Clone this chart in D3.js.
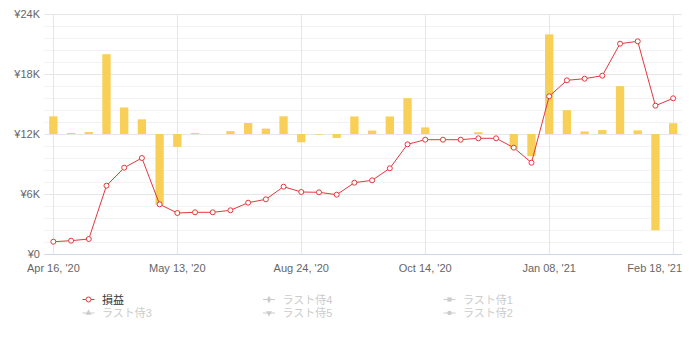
<!DOCTYPE html>
<html>
<head>
<meta charset="utf-8">
<script src="https://cdn.jsdelivr.net/npm/d3@7"></script>
<style>
  html, body { margin: 0; padding: 0; background: #fff; }
  svg { display: block; font-family: "Liberation Sans", Arial, "Noto Sans CJK JP", sans-serif; }
</style>
</head>
<body>
<svg id="chart" width="689" height="338"></svg>
<script>
// ---- data ----
const tickLabels = ["Apr 16, '20", "May 13, '20", "Aug 24, '20", "Oct 14, '20", "Jan 08, '21", "Feb 18, '21"];
const cumulativePL = [1230, 1330, 1500, 6830, 8630, 9600, 4970, 4100, 4170, 4170, 4370, 5130,
  5470, 6730, 6200, 6170, 5930, 7130, 7370, 8570, 10970, 11430, 11430, 11430,
  11570, 11570, 10630, 9130, 15770, 17370, 17530, 17830, 21030, 21270, 14830, 15570];
const periodPL = [1180, 70, 130, 5320, 1770, 980, -4700, -860, 70, 0, 190, 730,
  360, 1180, -550, -40, -260, 1170, 230, 1170, 2390, 440, 0, 0,
  120, 0, -980, -1480, 6640, 1590, 170, 260, 3190, 240, -6420, 720];
const yTicks = [0, 6000, 12000, 18000, 24000];
const legendNames = ["損益", "ラスト侍4", "ラスト侍1", "ラスト侍3", "ラスト侍5", "ラスト侍2"];
const legendSymbols = ["circle", "diamond", "square", "triangle", "triangle-down", "circle"];

// ---- layout ----
const svg = d3.select("#chart");
const plot = { left: 44.5, right: 682, top: 14, bottom: 254 };
const n = cumulativePL.length;

const x = d3.scaleBand().domain(d3.range(n)).range([plot.left, plot.right]).paddingInner(0.53).paddingOuter(0.265);
const xc = i => x(i) + x.bandwidth() / 2;
const y = d3.scaleLinear().domain([0, 24000]).range([plot.bottom, plot.top]);
const y2 = d3.scaleLinear().domain([-8000, 8000]).range([plot.bottom, plot.top]);

// minor grid
const minorTicks = d3.range(0, 24001, 1200).filter(v => v % 6000 !== 0);
svg.append("g").selectAll("line").data(minorTicks).join("line")
  .attr("x1", plot.left).attr("x2", plot.right)
  .attr("y1", d => Math.round(y(d)) + 0.5).attr("y2", d => Math.round(y(d)) + 0.5)
  .attr("stroke", "#f2f2f2").attr("stroke-width", 1);

// major horizontal grid
svg.append("g").selectAll("line").data(yTicks.filter(v => v > 0)).join("line")
  .attr("x1", plot.left).attr("x2", plot.right)
  .attr("y1", d => Math.round(y(d)) + 0.5).attr("y2", d => Math.round(y(d)) + 0.5)
  .attr("stroke", "#e6e6e6").attr("stroke-width", 1);

// vertical grid at labeled ticks
const tickIdx = d3.range(n).filter(i => i % 7 === 0);
svg.append("g").selectAll("line").data(tickIdx).join("line")
  .attr("x1", d => Math.round(xc(d)) + 0.5).attr("x2", d => Math.round(xc(d)) + 0.5)
  .attr("y1", plot.top).attr("y2", plot.bottom)
  .attr("stroke", "#e6e6e6").attr("stroke-width", 1);

// y axis labels
const yAxis = d3.axisLeft(y).tickValues(yTicks).tickSize(0).tickPadding(0)
  .tickFormat(d => d === 0 ? "¥0" : "¥" + (d / 1000) + "K");
const gy = svg.append("g").attr("transform", `translate(40,0)`).call(yAxis);
gy.select(".domain").remove();
gy.selectAll("text").attr("fill", "#666").style("font-size", "11px")
  .style("font-family", '"Liberation Sans", Arial, sans-serif');

// bars
svg.append("g").selectAll("rect").data(periodPL).join("rect")
  .attr("x", (d, i) => x(i))
  .attr("width", x.bandwidth())
  .attr("y", d => Math.min(y2(d), y2(0)))
  .attr("height", d => Math.abs(y2(d) - y2(0)))
  .attr("fill", "#f8d057");

// x axis line
svg.append("line").attr("x1", plot.left).attr("x2", plot.right)
  .attr("y1", plot.bottom + 0.5).attr("y2", plot.bottom + 0.5)
  .attr("stroke", "#ccd6eb").attr("stroke-width", 1);

// x axis labels
const xAxis = d3.axisBottom(x).tickValues(tickIdx).tickSize(0).tickPadding(0)
  .tickFormat(d => tickLabels[d / 7]);
const gx = svg.append("g").attr("transform", `translate(0,${plot.bottom + 10})`).call(xAxis);
gx.select(".domain").remove();
gx.selectAll("text").attr("fill", "#666").style("font-size", "11px")
  .style("font-family", '"Liberation Sans", Arial, sans-serif');
// keep last label inside plot's right edge
gx.selectAll(".tick").each(function(d) {
  const t = d3.select(this).select("text");
  const w = t.node().getComputedTextLength();
  const cx = xc(d);
  if (cx + w / 2 > plot.right) {
    t.attr("text-anchor", "end").attr("x", plot.right - cx);
  }
});

// cumulative line
const line = d3.line().x((d, i) => xc(i)).y(d => y(d));
svg.append("path").datum(cumulativePL).attr("d", line)
  .attr("fill", "none").attr("stroke", "#e0393e").attr("stroke-width", 1);
svg.append("g").selectAll("circle").data(cumulativePL).join("circle")
  .attr("cx", (d, i) => xc(i)).attr("cy", d => y(d)).attr("r", 2.5)
  .attr("fill", "#fff").attr("stroke", "#e0393e").attr("stroke-width", 1);

// legend
const symMap = {
  "circle": d3.symbolCircle, "diamond": d3.symbolDiamond, "square": d3.symbolSquare,
  "triangle": d3.symbolTriangle
};
const legend = svg.append("g");
legendNames.forEach((name, k) => {
  const col = k % 3, row = Math.floor(k / 3);
  const lx = 82.5 + col * 180.5, ly = 299.5 + row * 13.5;
  const active = k === 0;
  const color = active ? "#e0393e" : "#cccccc";
  const g = legend.append("g").attr("transform", `translate(${lx},${ly})`);
  g.append("line").attr("x1", 0).attr("x2", 12).attr("y1", 0).attr("y2", 0)
    .attr("stroke", color).attr("stroke-width", 1);
  const s = legendSymbols[k];
  if (active) {
    g.append("circle").attr("cx", 6).attr("cy", 0).attr("r", 2.5)
      .attr("fill", "#fff").attr("stroke", color).attr("stroke-width", 1);
  } else {
    const sym = s === "triangle-down" ? d3.symbolTriangle : symMap[s];
    g.append("path").attr("d", d3.symbol().type(sym).size(s === "square" ? 18 : 16)())
      .attr("transform", `translate(6,0)` + (s === "triangle-down" ? " rotate(180)" : ""))
      .attr("fill", color);
  }
  g.append("text").attr("x", 19.5).attr("y", 4)
    .attr("fill", active ? "#333333" : "#cccccc")
    .style("font-size", "11px")
    .style("font-family", '"Liberation Sans", "Noto Sans CJK JP", sans-serif')
    .text(name);
});
</script>
</body>
</html>
